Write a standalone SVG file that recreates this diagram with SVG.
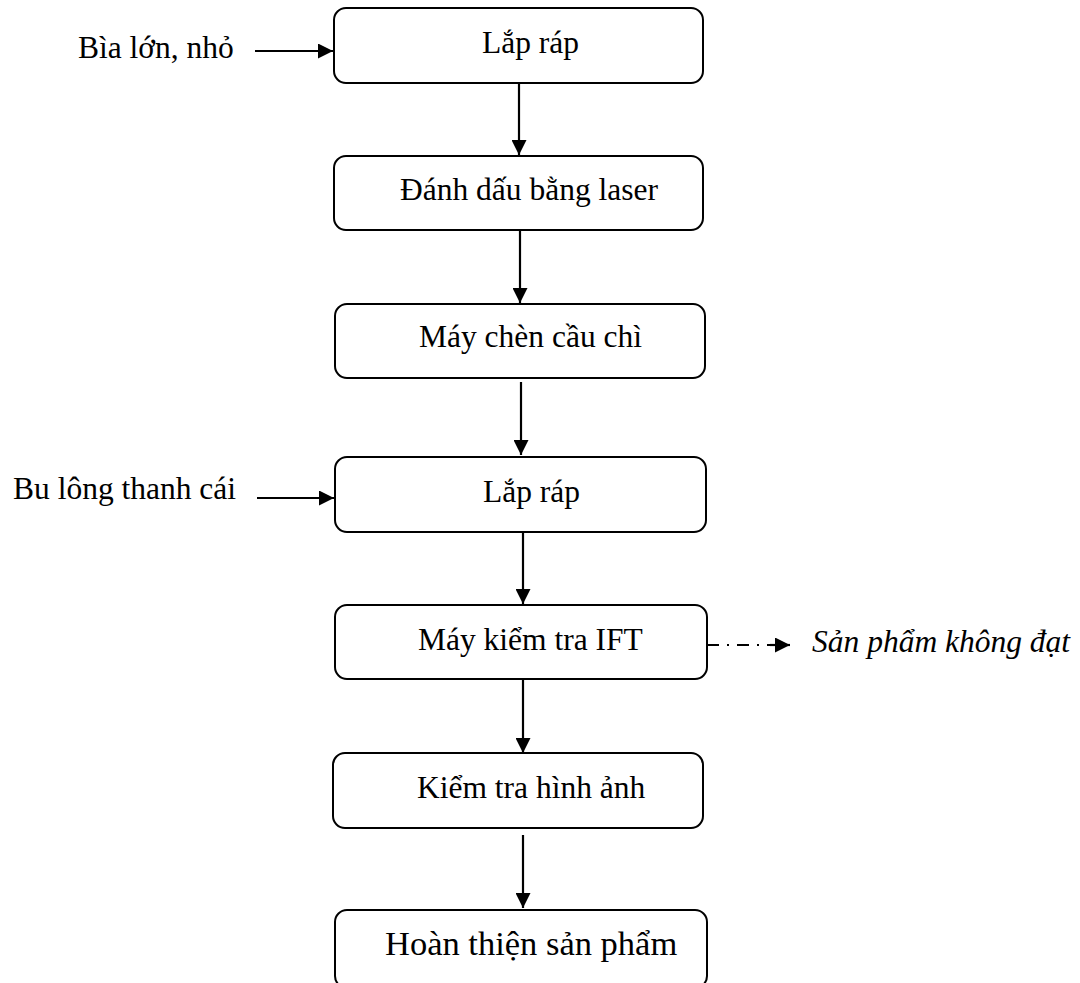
<svg xmlns="http://www.w3.org/2000/svg" width="1080" height="983" viewBox="0 0 1080 983">
  <style>
    .box { fill: #ffffff; stroke: #000000; stroke-width: 2; }
    .lbl { font-family: "Liberation Serif", "Times New Roman", serif; font-size: 31.5px; fill: #000000; }
    .big { font-size: 34.5px; }
    .it { font-style: italic; }
    .edge { stroke: #000000; stroke-width: 2.2; fill: none; }
    .dashed { stroke-dasharray: 12 8 2 8; }
  </style>
  <defs>
    <marker id="arrow" viewBox="0 0 10 10" refX="10" refY="5" markerWidth="15" markerHeight="15" markerUnits="userSpaceOnUse" orient="auto">
      <path d="M0,0 L10,5 L0,10 Z" fill="#000000"/>
    </marker>
  </defs>
  <rect width="1080" height="983" fill="#ffffff"/>

  <!-- process steps -->
  <g id="n1"><rect class="box" x="334" y="8" width="369" height="75" rx="12"/><text class="lbl" x="482" y="53">Lắp ráp</text></g>
  <g id="n2"><rect class="box" x="334" y="156" width="369" height="74" rx="12"/><text class="lbl" x="400" y="200">Đánh dấu bằng laser</text></g>
  <g id="n3"><rect class="box" x="335" y="304" width="370" height="74" rx="12"/><text class="lbl" x="419" y="347">Máy chèn cầu chì</text></g>
  <g id="n4"><rect class="box" x="335" y="457" width="371" height="75" rx="12"/><text class="lbl" x="483" y="502">Lắp ráp</text></g>
  <g id="n5"><rect class="box" x="335" y="605" width="372" height="74" rx="12"/><text class="lbl" x="418" y="650">Máy kiểm tra IFT</text></g>
  <g id="n6"><rect class="box" x="333" y="753" width="370" height="75" rx="12"/><text class="lbl" x="417" y="798">Kiểm tra hình ảnh</text></g>
  <g id="n7"><rect class="box" x="335" y="910" width="372" height="78" rx="12"/><text class="lbl big" x="385" y="955">Hoàn thiện sản phẩm</text></g>

  <!-- inputs and rejects -->
  <g id="in1"><text class="lbl" x="78" y="58">Bìa lớn, nhỏ</text></g>
  <g id="in2"><text class="lbl" x="13" y="499">Bu lông thanh cái</text></g>
  <g id="out1"><text class="lbl it" x="812" y="652">Sản phẩm không đạt</text></g>

  <g id="connectors">
    <line class="edge" x1="519" y1="83" x2="519" y2="155" marker-end="url(#arrow)"/>
    <line class="edge" x1="520" y1="230" x2="520" y2="303" marker-end="url(#arrow)"/>
    <line class="edge" x1="521" y1="382" x2="521" y2="455" marker-end="url(#arrow)"/>
    <line class="edge" x1="523" y1="532" x2="523" y2="604" marker-end="url(#arrow)"/>
    <line class="edge" x1="523" y1="680" x2="523" y2="753" marker-end="url(#arrow)"/>
    <line class="edge" x1="523" y1="835" x2="523" y2="908" marker-end="url(#arrow)"/>
    <line class="edge" x1="255" y1="51" x2="333" y2="51" marker-end="url(#arrow)"/>
    <line class="edge" x1="257" y1="498" x2="334" y2="498" marker-end="url(#arrow)"/>
    <line class="edge dashed" x1="707" y1="645" x2="776" y2="645"/>
    <line class="edge" x1="770" y1="645" x2="790" y2="645" marker-end="url(#arrow)"/>
  </g>
</svg>
